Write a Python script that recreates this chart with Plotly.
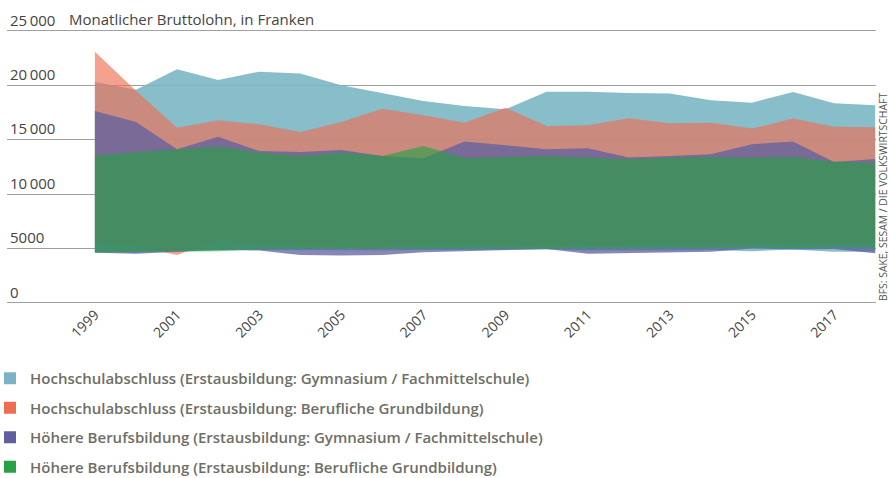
import plotly.graph_objects as go

years = list(range(1999, 2019))

# Hochschulabschluss (Gymnasium / Fachmittelschule) – blue band
blue_high = [20300, 19600, 21470, 20490, 21260, 21080, 20000, 19260, 18560, 18100,
             17800, 19420, 19420, 19290, 19260, 18620, 18410, 19390, 18350, 18160]
blue_low = [4700, 4600, 4800, 4900, 4850, 4800, 4800, 4800, 4850, 4850,
            4900, 4900, 4800, 4800, 4800, 4850, 4750, 4900, 4700, 4700]

# Hochschulabschluss (Berufliche Grundbildung) – orange band
orange_high = [23100, 19500, 16110, 16780, 16410, 15710, 16630, 17850, 17240, 16570,
               17950, 16260, 16320, 16970, 16510, 16570, 16020, 16940, 16200, 16140]
orange_low = [5500, 5200, 4400, 5800, 5400, 5200, 5100, 5100, 5300, 5400,
              5300, 5200, 5300, 5300, 5400, 5400, 5500, 5400, 5500, 5500]

# Höhere Berufsbildung (Gymnasium / Fachmittelschule) – purple band
purple_high = [17640, 16630, 14120, 15280, 13960, 13870, 14060, 13500, 13300, 14830,
               14490, 14120, 14210, 13360, 13510, 13660, 14580, 14830, 12950, 13230]
purple_low = [4600, 4500, 4700, 4850, 4800, 4400, 4350, 4400, 4650, 4700,
              4850, 4950, 4500, 4600, 4650, 4700, 5000, 4900, 4950, 4550]

# Höhere Berufsbildung (Berufliche Grundbildung) – green band
green_high = [13570, 13870, 14120, 14370, 13820, 13510, 13820, 13510, 14420, 13320,
              13420, 13510, 13330, 13230, 13330, 13420, 13330, 13420, 13000, 12850]
green_low = [4600, 4700, 4750, 4750, 4950, 5000, 5000, 5000, 5000, 5000,
             5000, 5000, 5000, 5000, 5000, 5050, 5100, 5000, 5100, 5050]

series_names = [
    "Hochschulabschluss (Erstausbildung: Gymnasium / Fachmittelschule)",
    "Hochschulabschluss (Erstausbildung: Berufliche Grundbildung)",
    "Höhere Berufsbildung (Erstausbildung: Gymnasium / Fachmittelschule)",
    "Höhere Berufsbildung (Erstausbildung: Berufliche Grundbildung)",
]
solid_colors = ["#78b4c3", "#ee6e55", "#5f5fa0", "#28a046"]
fill_colors = ["rgba(120,180,195,0.88)", "rgba(238,110,85,0.65)",
               "rgba(95,95,160,0.75)", "rgba(40,160,70,0.64)"]

y_tick_vals = [0, 5000, 10000, 15000, 20000, 25000]
y_tick_text = ["0", "5000", "10\u2009000", "15\u2009000", "20\u2009000", "25\u2009000"]
x_tick_vals = list(range(1999, 2018, 2))
x_tick_text = [str(v) for v in x_tick_vals]

highs = [blue_high, orange_high, purple_high, green_high]
lows = [blue_low, orange_low, purple_low, green_low]

FONT = "Open Sans"
GRID = "#a0a0a0"
fig = go.Figure()

for i in range(4):
    fig.add_trace(go.Scatter(
        x=years + years[::-1],
        y=highs[i] + lows[i][::-1],
        fill="toself",
        fillcolor=fill_colors[i],
        line=dict(width=0),
        mode="lines",
        hoverinfo="skip",
        showlegend=False,
    ))

for i in range(4):
    fig.add_trace(go.Scatter(
        x=[None], y=[None],
        mode="markers",
        marker=dict(symbol="square", size=12, color=solid_colors[i]),
        name=series_names[i],
        legendgroup=f"g{i}",
        showlegend=True,
    ))

fig.update_layout(
    width=889, height=478,
    margin=dict(l=7, r=13, t=0, b=175, autoexpand=False),
    plot_bgcolor="white", paper_bgcolor="white",
    font=dict(family=FONT, color="#444444", size=15),
    showlegend=True,
    legend=dict(
        xref="paper", yref="container",
        x=-17 / 869, y=1 - 362 / 478, xanchor="left", yanchor="top",
        traceorder="grouped", tracegroupgap=7,
        font=dict(family=FONT, size=15, color="#6e6e66", weight=600),
        itemwidth=30,
        bgcolor="rgba(0,0,0,0)",
    ),
    xaxis=dict(
        range=[1996.86, 2018.02],
        tickvals=x_tick_vals, ticktext=x_tick_text,
        tickangle=-45, showgrid=False, zeroline=False, showline=False,
        ticks="",
        tickfont=dict(size=14, color="#444444"),
    ),
    yaxis=dict(
        range=[-20, 27850],
        tickvals=y_tick_vals, ticktext=y_tick_text,
        ticklabelposition="inside top",
        showgrid=True, gridcolor=GRID, gridwidth=1,
        zeroline=True, zerolinecolor=GRID, zerolinewidth=1,
        showline=False, ticks="",
        tickfont=dict(size=15, color="#444444"),
    ),
    annotations=[
        dict(text="Monatlicher Bruttolohn, in Franken",
             xref="paper", yref="y", x=60 / 869, y=25000,
             xanchor="left", yanchor="bottom", showarrow=False,
             font=dict(size=15, color="#444444")),
        dict(text="BFS: SAKE, SESAM / DIE VOLKSWIRTSCHAFT",
             xref="paper", yref="paper", x=1 + 7 / 869, y=0,
             xanchor="center", yanchor="bottom", textangle=-90,
             showarrow=False, font=dict(size=10.4, color="#555555")),
    ],
)

fig.write_html(
    "out.html",
    config={"displayModeBar": False},
    post_script="document.body.style.margin='0px';document.body.style.overflow='hidden';",
)
